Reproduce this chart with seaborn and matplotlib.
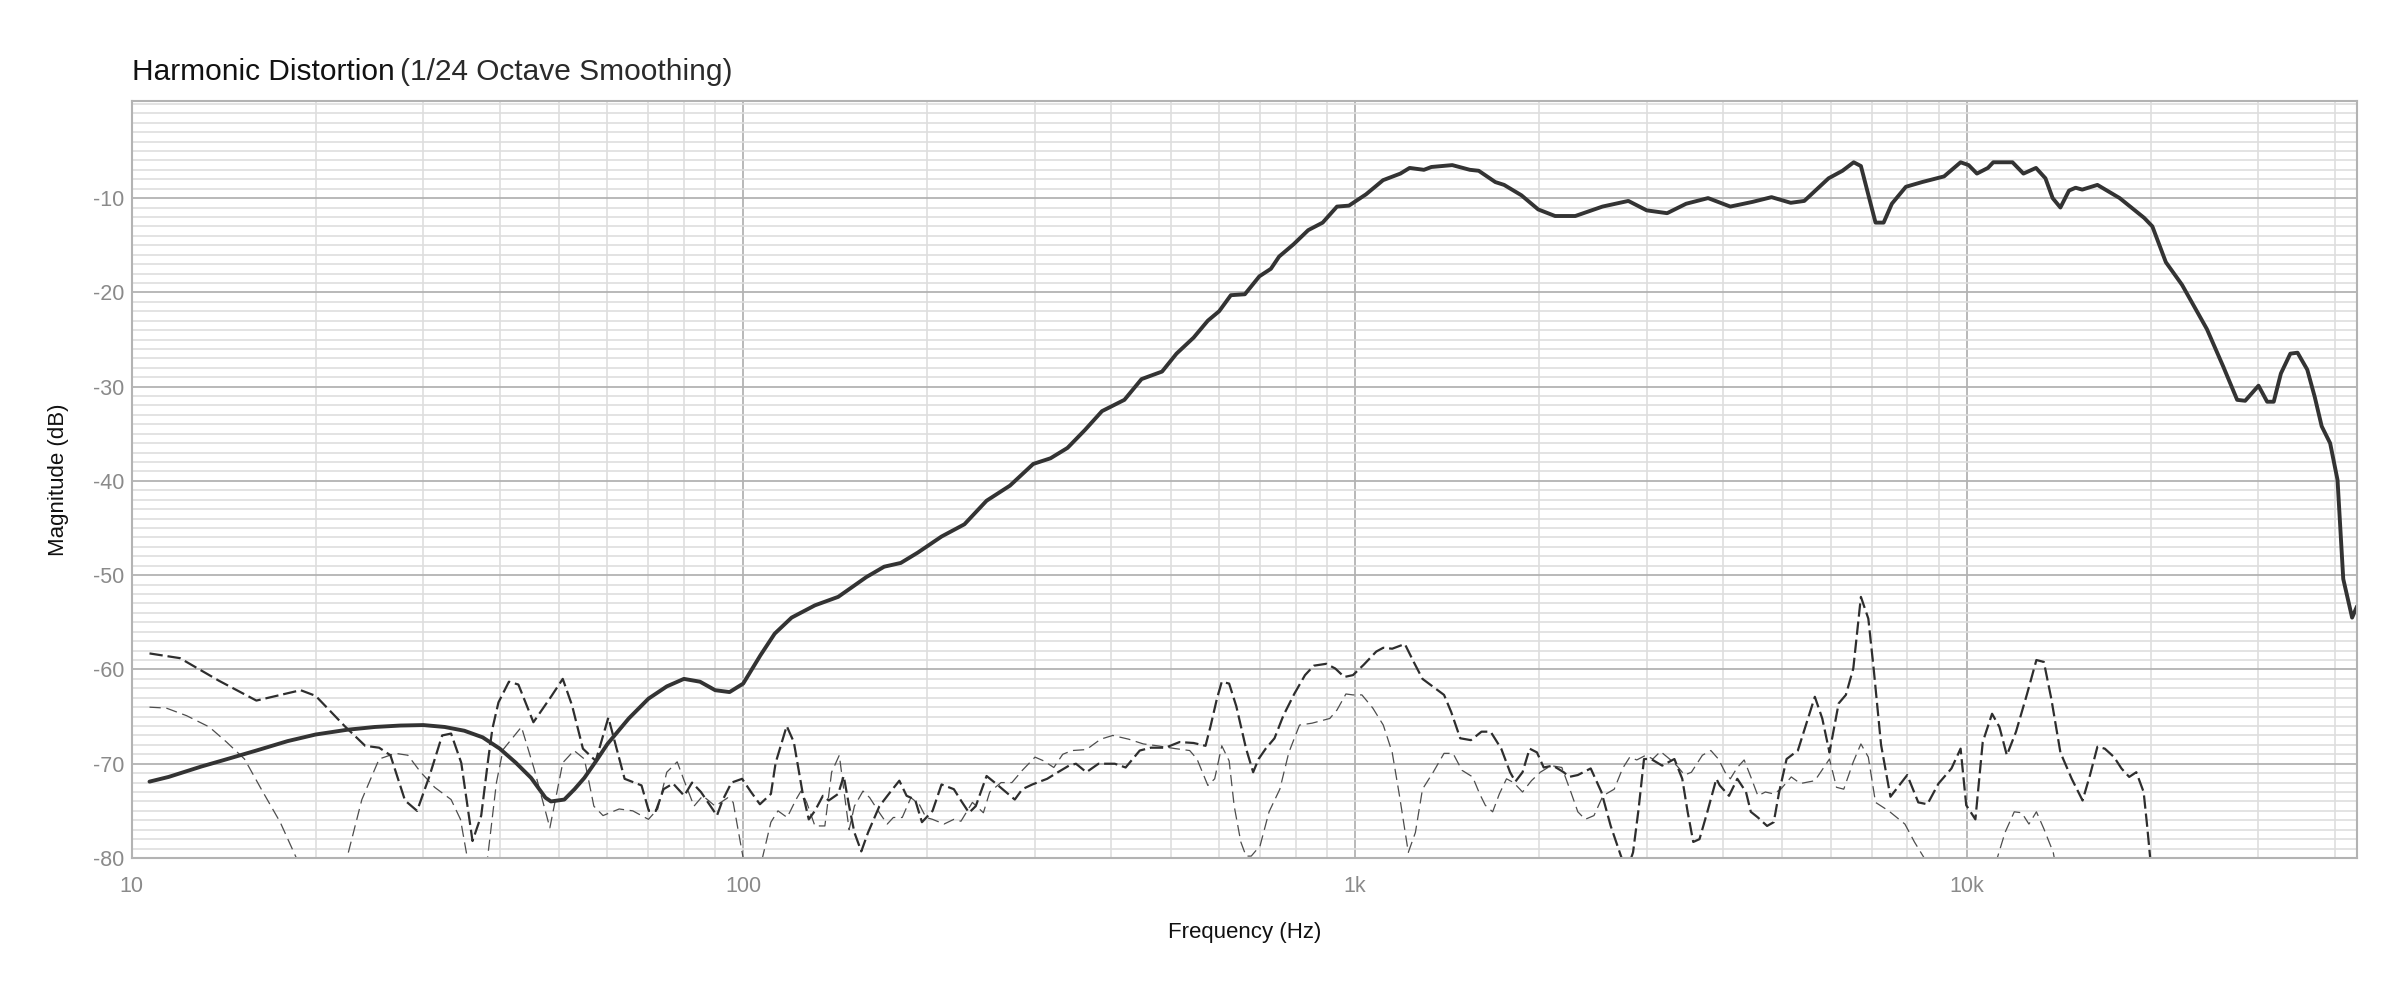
import matplotlib
matplotlib.use("Agg")
import matplotlib.pyplot as plt
from matplotlib.ticker import MultipleLocator, LogLocator, FixedLocator, NullFormatter
import seaborn as sns

# fundamental (thick solid)
fund_hz = [10.7, 11.5, 13, 14, 16, 18, 20, 22.5, 25, 27.5, 30, 32.5, 35, 37.5, 40, 42.5, 45, 47.5,
           48.5, 51, 53, 55, 57.5, 60, 65, 70, 75, 80, 85, 90,
           95, 100, 106.7, 112.6, 120, 131, 143, 159, 170, 181, 193, 211, 230, 250, 273, 298, 318,
           339, 362, 386, 420, 448, 484, 511, 545, 575, 600, 627, 661, 698, 729, 752, 794, 839, 886,
           935, 978, 1043, 1112, 1187, 1229, 1297, 1334, 1443, 1542, 1594, 1697, 1754, 1872, 1994,
           2125, 2293, 2540, 2800, 3000, 3240, 3480, 3780, 4110, 4470, 4800, 5160, 5430, 5950, 6270,
           6540, 6720, 7100, 7320, 7550, 7960, 8460, 9190, 9780, 10080, 10400, 10840, 11060, 11890,
           12390, 12990, 13460, 13830, 14240, 14710, 15080, 15460, 16370, 17800, 19520, 20130,
           21180, 22510, 24720, 26300, 27700, 28550, 30020, 31010, 31790, 32660, 33840, 34770,
           36070, 37100, 38080, 39310, 40420, 41300, 42700, 43500]
fund_db = [-71.9, -71.4, -70.3, -69.7, -68.6, -67.6, -66.9, -66.4, -66.1, -65.95, -65.9, -66.1,
           -66.5, -67.2, -68.4, -69.9, -71.5, -73.6, -74.0, -73.8, -72.7, -71.5, -69.7, -67.9,
           -65.2, -63.1, -61.8, -61.0, -61.3, -62.2, -62.4, -61.5, -58.5, -56.2, -54.5, -53.2,
           -52.3, -50.2, -49.1, -48.7, -47.6, -45.9, -44.6, -42.1, -40.5, -38.2, -37.6, -36.5, -34.6,
           -32.6, -31.4, -29.2, -28.4, -26.5, -24.8, -23.0, -22.0, -20.3, -20.2, -18.3, -17.5, -16.2,
           -14.9, -13.4, -12.6, -10.9, -10.8, -9.6, -8.1, -7.4, -6.8, -7.0, -6.7, -6.5, -7.0, -7.1,
           -8.3, -8.6, -9.7, -11.2, -11.9, -11.9, -10.9, -10.3, -11.3, -11.6, -10.6, -10.0, -10.9,
           -10.4, -9.9, -10.5, -10.3, -7.9, -7.1, -6.2, -6.6, -12.6, -12.6, -10.6, -8.8, -8.3, -7.7,
           -6.2, -6.5, -7.4, -6.8, -6.2, -6.2, -7.4, -6.8, -7.9, -10.0, -11.0, -9.2, -8.9, -9.1,
           -8.6, -10.0, -12.1, -13.0, -16.8, -19.2, -23.9, -27.9, -31.4, -31.5, -29.9, -31.6, -31.6,
           -28.6, -26.5, -26.4, -28.2, -31.1, -34.2, -36.0, -39.9, -50.4, -54.5, -53.3]

# 2nd harmonic (medium dashed)
h2_hz = [10.7, 12.0, 13.9, 16.0, 18.9, 20.0, 22.3, 24.1, 25.4, 26.5, 28.0, 29.3, 30.7, 32.2, 33.3,
         34.6, 36.1, 37.3, 38.3, 38.9, 39.8, 41.4, 42.9, 45.4, 48.5, 50.7, 52.5, 54.7, 57.4, 60.2,
         64.0, 68.2, 70.1, 72.0, 74.1, 76.8, 80.1, 82.5, 85.3, 90.6, 92.5, 95.7, 99.6, 103, 106.5,
         111, 113, 117.8, 121, 125, 128, 131, 135, 138, 143, 146, 149, 152, 156, 160, 167, 174, 180,
         185, 191, 196, 204, 211, 221, 227, 234, 240, 250, 260, 278, 286, 297, 314, 327, 341, 350,
         364, 381, 405, 422, 445, 464, 490, 517, 545, 570, 581, 595, 606, 623, 640, 664, 682, 696,
         715, 739, 764, 796, 829, 857, 898, 929, 961, 993, 1034, 1084, 1113, 1151, 1207, 1248, 1290,
         1334, 1399, 1437, 1487, 1548, 1611, 1667, 1735, 1794, 1830, 1880, 1931, 1985, 2036, 2108,
         2195, 2240, 2315, 2430, 2530, 2620, 2710, 2780, 2850, 2910, 2970, 3050, 3180, 3330, 3430,
         3500, 3575, 3660, 3770, 3900, 3950, 4090, 4220, 4360, 4440, 4560, 4720, 4840, 4940, 5080,
         5300, 5650, 5810, 5970, 6180, 6350, 6530, 6720, 6910, 7050, 7250, 7510, 8000, 8340, 8630,
         9000, 9450, 9780, 9990, 10340, 10630, 11010, 11320, 11640, 12050, 12560, 13010, 13380,
         13760, 14240, 14860, 15480, 15920, 16370, 16830, 17430, 17920, 18450, 18950, 19480, 19740,
         19960, 20300]
h2_db = [-58.3, -58.8, -61.2, -63.3, -62.2, -62.8, -66.0, -68.1, -68.3, -69.1, -73.9, -75.0, -71.3,
         -67.0, -66.8, -69.9, -78.2, -75.5, -69.5, -66.3, -63.5, -61.3, -61.6, -65.6, -62.9, -61.0,
         -63.8, -68.4, -69.7, -65.1, -71.6, -72.3, -75.0, -75.0, -72.7, -72.1, -73.4, -72.0, -73.0,
         -75.5, -73.9, -72.0, -71.6, -73.0, -74.3, -73.2, -69.9, -66.0, -67.7, -73.0, -75.9, -75.0,
         -73.4, -73.9, -73.2, -71.3, -74.5, -77.3, -79.3, -77.3, -74.5, -73.0, -71.8, -73.4, -73.8,
         -76.2, -75.0, -72.2, -72.7, -73.9, -75.2, -74.5, -71.3, -72.2, -73.8, -72.7, -72.2, -71.6,
         -70.9, -70.2, -70.0, -70.9, -70.0, -70.0, -70.4, -68.6, -68.3, -68.3, -67.7, -67.8, -68.1,
         -66.0, -63.1, -61.3, -61.5, -63.9, -68.4, -70.9, -69.5, -68.4, -67.3, -64.9, -62.6, -60.6,
         -59.6, -59.4, -59.9, -60.8, -60.6, -59.5, -58.1, -57.7, -57.8, -57.3, -59.2, -61.0, -61.7,
         -62.7, -64.5, -67.3, -67.5, -66.6, -66.6, -68.4, -70.9, -71.9, -70.9, -68.4, -68.8, -70.4,
         -70.2, -70.9, -71.4, -71.2, -70.5, -73.0, -76.6, -79.4, -81.5, -79.4, -74.8, -69.5, -69.5,
         -70.2, -69.5, -71.6, -75.1, -78.3, -78.0, -75.1, -71.6, -72.3, -73.4, -71.6, -73.0, -75.1,
         -75.7, -76.6, -76.2, -73.0, -69.5, -68.6, -62.9, -65.2, -68.8, -63.6, -62.7, -59.9, -52.3,
         -54.6, -59.9, -68.0, -73.5, -71.2, -74.1, -74.3, -72.1, -70.5, -68.4, -74.4, -75.9, -67.7,
         -64.7, -66.1, -69.1, -66.6, -62.6, -59.0, -59.2, -63.1, -68.8, -71.6, -73.9, -71.2, -68.2,
         -68.4, -69.3, -70.5, -71.4, -70.9, -73.0, -76.6, -79.9, -86.0]

# 3rd harmonic (thin dashed)
h3_hz = [10.7, 11.4, 12.3, 13.4, 14.3, 15.3, 16.3, 17.5, 18.6, 20.2, 22.5, 23.8, 25.4, 27.0, 28.3,
         29.7, 31.3, 33.3, 34.5, 35.4, 36.6, 38.2, 39.5, 40.5, 43.4, 45.5, 48.3, 50.7, 52.9, 55.0,
         57.0, 59.0, 62.7, 66.0, 70.0, 72.5, 75.0, 78.0, 80.3, 83.1, 85.9, 90.0, 94.4, 96.3, 98.3,
         100, 103.5, 107.5, 111, 114, 118, 122, 124.3, 127, 131, 136, 139.5, 143.6, 146, 149, 152,
         157, 161, 167, 172, 176, 182, 188, 194, 199, 204, 213, 221, 227, 237, 247, 253, 264, 275,
         286, 300, 310, 322, 333, 345, 364, 384, 402, 427, 451, 476, 509, 537, 552, 575, 590, 606,
         623, 635, 651, 664, 677, 700, 724, 754, 780, 812, 851, 910, 935, 967, 993, 1027, 1070,
         1113, 1151, 1183, 1223, 1256, 1290, 1343, 1399, 1447, 1497, 1558, 1600, 1634, 1680, 1723,
         1770, 1818, 1880, 1944, 2010, 2093, 2180, 2255, 2315, 2380, 2460, 2545, 2655, 2740, 2815,
         2890, 2990, 3070, 3160, 3270, 3360, 3460, 3550, 3700, 3820, 3930, 4030, 4110, 4220, 4330,
         4440, 4560, 4690, 4840, 4970, 5170, 5350, 5650, 5970, 6130, 6300, 6530, 6720, 6910, 7100,
         7460, 7930, 8220, 8510, 9700, 11240, 11560, 11970, 12310, 12650, 13010, 13380, 13860,
         14300]
h3_db = [-64.0, -64.1, -64.9, -66.1, -67.7, -69.5, -72.7, -76.2, -80.0, -88.0, -80.0, -73.8, -69.5,
         -68.9, -69.1, -70.9, -72.5, -73.8, -75.9, -80.0, -84.0, -80.0, -72.0, -68.5, -66.1, -70.5,
         -76.8, -69.9, -68.6, -69.5, -74.5, -75.5, -74.8, -75.0, -75.9, -74.8, -70.9, -69.8, -72.0,
         -74.5, -73.4, -74.5, -73.6, -74.1, -77.3, -80.0, -85.0, -80.0, -76.2, -75.0, -75.7, -73.8,
         -72.9, -74.1, -76.6, -76.6, -70.9, -69.1, -72.7, -77.0, -74.5, -72.9, -73.6, -75.2, -76.4,
         -75.7, -75.7, -73.6, -74.3, -75.7, -75.9, -76.4, -75.9, -76.1, -74.1, -75.2, -73.0, -72.0,
         -72.0, -70.7, -69.3, -69.7, -70.4, -69.0, -68.6, -68.5, -67.4, -67.0, -67.4, -67.9, -68.1,
         -68.4, -68.6, -69.5, -72.3, -71.6, -68.1, -69.7, -74.5, -78.3, -79.8, -79.8, -78.7, -75.1,
         -72.7, -68.8, -65.9, -65.7, -65.2, -64.3, -62.6, -62.7, -62.7, -64.1, -65.9, -68.8, -73.4,
         -79.4, -77.3, -72.7, -70.9, -68.9, -68.9, -70.7, -71.4, -73.2, -74.4, -75.1, -73.2, -71.6,
         -72.0, -73.0, -71.8, -70.9, -70.2, -70.4, -73.0, -75.1, -75.9, -75.5, -73.4, -72.7, -70.5,
         -69.3, -69.6, -69.1, -69.5, -68.7, -69.5, -70.2, -71.2, -70.9, -69.1, -68.6, -69.5, -70.9,
         -71.6, -70.4, -69.6, -71.4, -73.4, -73.0, -73.2, -72.7, -71.4, -72.1, -71.8, -69.5, -72.5,
         -72.7, -69.8, -67.9, -69.3, -74.1, -75.0, -76.4, -78.3, -79.9, -88.0, -79.9, -77.3, -75.1,
         -75.2, -76.4, -75.1, -76.9, -79.4, -84.0]

x_ticks = [10, 100, 1000, 10000]
x_tick_labels = ["10", "100", "1k", "10k"]
y_ticks = [-80, -70, -60, -50, -40, -30, -20, -10]

sns.set_theme(style="white")
plt.rcParams["font.family"] = ["Liberation Sans", "DejaVu Sans"]

fig = plt.figure(figsize=(24, 10), dpi=100)
ax = fig.add_axes([0.0548, 0.142, 0.9273, 0.757])

sns.lineplot(x=h3_hz, y=h3_db, ax=ax, color="#4d4d4d", linewidth=0.9,
             dashes=(9, 4.5), estimator=None, sort=False)
sns.lineplot(x=h2_hz, y=h2_db, ax=ax, color="#2e2e2e", linewidth=1.6,
             dashes=(6, 2.2), estimator=None, sort=False)
sns.lineplot(x=fund_hz, y=fund_db, ax=ax, color="#333333", linewidth=2.8,
             estimator=None, sort=False)

ax.set_xscale("log")
ax.set_xlim(10, 43500)
ax.set_ylim(-80, 0.3)

ax.xaxis.set_major_locator(FixedLocator(x_ticks))
ax.set_xticklabels(x_tick_labels)
ax.xaxis.set_minor_locator(LogLocator(base=10, subs=range(2, 10), numticks=20))
ax.xaxis.set_minor_formatter(NullFormatter())
ax.set_yticks(y_ticks)
ax.set_yticklabels([str(v) for v in y_ticks])
ax.yaxis.set_minor_locator(MultipleLocator(1))

ax.set_axisbelow(True)
ax.grid(which="minor", color="#dedede", linewidth=1.2)
ax.grid(which="major", color="#b3b3b3", linewidth=1.3)
for s in ax.spines.values():
    s.set_color("#b3b3b3")
    s.set_linewidth(1.5)

ax.tick_params(axis="both", which="both", length=0, labelsize=15.5, labelcolor="#8a8a8a")
ax.tick_params(axis="x", pad=13)
ax.tick_params(axis="y", pad=5)

ax.set_xlabel("Frequency (Hz)", fontsize=16, color="#111111")
ax.set_ylabel("Magnitude (dB)", fontsize=16, color="#111111")
ax.xaxis.set_label_coords(0.5, -0.085)
ax.yaxis.set_label_coords(-0.028, 0.5)

# two-part title
t1 = fig.text(0.0548, 0.92, "Harmonic Distortion", fontsize=21.5, color="#111111", va="baseline")
fig.canvas.draw()
bb = t1.get_window_extent()
fig.text(bb.x1 / fig.bbox.width + 0.0025, 0.92, "(1/24 Octave Smoothing)", fontsize=21.5,
         color="#2a2a2a", va="baseline")

fig.savefig("out.png", dpi=100)
